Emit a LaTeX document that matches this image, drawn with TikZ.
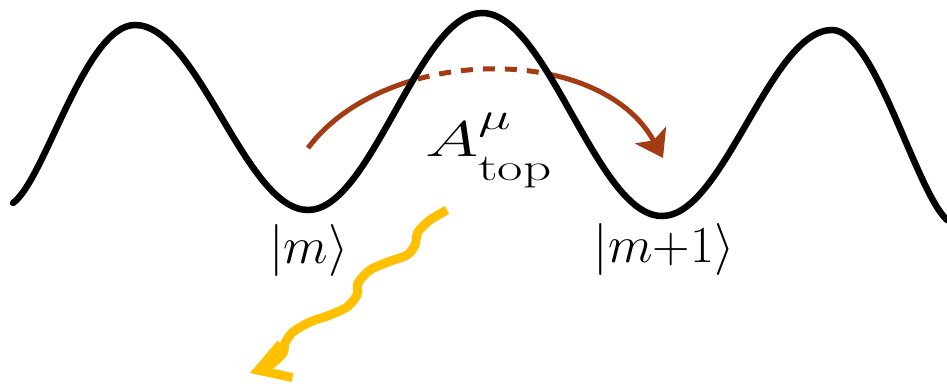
\RequirePackage{fix-cm}
\documentclass[tikz,border=0pt]{standalone}
\usepackage{amsmath}
\usetikzlibrary{arrows.meta}
\definecolor{hopbrown}{RGB}{163,60,20}
\definecolor{photon}{RGB}{255,192,0}
\newcommand{\supsize}{\fontsize{38}{38}\selectfont}
\tikzset{
  potential/.style={line width=6.5pt, black, line cap=round},
  hop/.style={line width=5pt, hopbrown, -{Stealth[length=26pt,width=35pt,inset=6pt]}},
  hopdash/.style={hop, dash pattern=on 12pt off 10pt},
  emission/.style={line width=9pt, photon, -{Straight Barb[length=30pt,width=36pt]}},
  ket/.style={font=\fontsize{52}{60}\selectfont, inner sep=0pt},
  coupling/.style={font=\fontsize{50}{60}\selectfont, inner sep=0pt}
}
\begin{document}
\begin{tikzpicture}[x=1pt,y=-1pt]
\useasboundingbox (0,0) rectangle (947,387);
\coordinate (hs) at (308,148);
\coordinate (he) at (663,158);
% hopping arrow: solid outside the barrier, dashed behind it
\begin{scope}
  \clip (0,0) rectangle (413,387);
  \draw[hop] (hs) .. controls (385,45) and (600,42) .. (he);
\end{scope}
\begin{scope}
  \clip (413,0) rectangle (551,387);
  \draw[hopdash] (hs) .. controls (385,45) and (600,42) .. (he);
\end{scope}
\begin{scope}
  \clip (551,0) rectangle (947,387);
  \draw[hop] (hs) .. controls (385,45) and (600,42) .. (he);
\end{scope}
% periodic potential
\draw[potential] (13,203) .. controls (45,180) and (85,25) .. (135,25)
  cos (221.5,117.5) sin (308,210) cos (395,111.5) sin (482,13)
  cos (572,114.5) sin (662,216) cos (747,123) sin (832,30)
  .. controls (875,30) and (915,190) .. (947,220);
% labels
\node[ket] (m) at (309,251) {$|m\rangle$};
\node[ket] (m1) at (664,249) {$|m{+}1\rangle$};
\node[coupling, anchor=base west] (A) at (425,157)
  {\scalebox{1.45}[1]{$A$\rlap{\raisebox{27pt}{\supsize$\mu$}}\raisebox{-24pt}{\supsize top}}};
% emitted photon
\coordinate (ys) at (447,210);
\coordinate (ye) at (250,373);
\draw[emission] plot[smooth, tension=0.5] coordinates {
  (ys) (430,220) (418,232) (415,245) (407,255) (388,262) (370,270)
  (358,283) (357,295) (347,307) (330,315) (310,322) (293,332)
  (285,343) (283,353) (270,365) (ye)};
\end{tikzpicture}
\end{document}
